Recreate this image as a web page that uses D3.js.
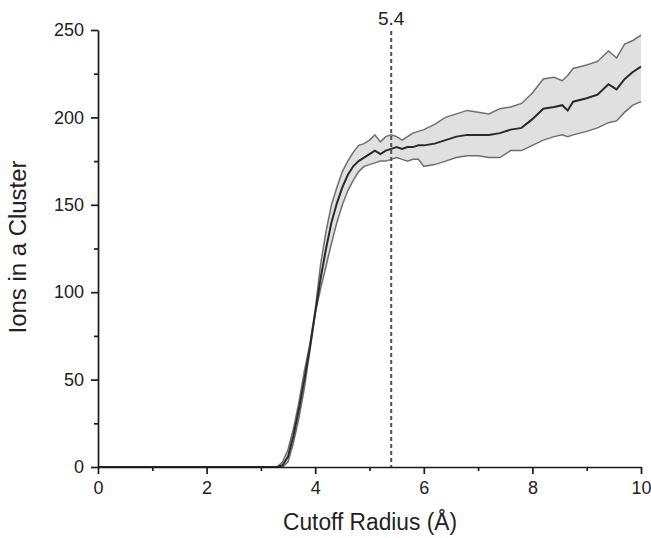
<!DOCTYPE html>
<html>
<head>
<meta charset="utf-8">
<script src="https://cdn.jsdelivr.net/npm/d3@7/dist/d3.min.js"></script>
<style>
  html, body { margin: 0; padding: 0; background: #fff; }
  svg { display: block; font-family: "Liberation Sans", Arial, Helvetica, sans-serif; }
</style>
</head>
<body>
<div id="chart"></div>
<script>
// ── Data ──
const radius = [0, 3.3, 3.4, 3.5, 3.6, 3.7, 3.8, 3.9,
  4.0, 4.1, 4.2, 4.3, 4.4, 4.5, 4.6, 4.7, 4.8, 4.9,
  5.0, 5.1, 5.2, 5.3, 5.4, 5.5, 5.6, 5.7, 5.8, 5.9,
  6.0, 6.2, 6.4, 6.6, 6.8, 7.0, 7.2, 7.4, 7.6, 7.8,
  8.0, 8.2, 8.4, 8.55, 8.65, 8.75, 9.0, 9.2, 9.4, 9.55, 9.7, 9.85, 10];
const meanIons = [0, 0, 1, 6, 18, 33, 50, 68,
  88, 108, 125, 140, 151, 160, 167, 172, 175, 177,
  179, 181, 179, 181, 182, 183, 182, 183, 183, 184,
  184, 185, 187, 189, 190, 190, 190, 191, 193, 194,
  199, 205, 206, 207, 204, 209, 211, 213, 219, 216, 222, 226, 229];
const upperIons = [0, 0, 3, 10, 22, 37, 55, 70,
  90, 116, 135, 150, 160, 169, 175, 180, 184, 185,
  187, 190, 186, 189, 190, 189, 187, 189, 191, 192,
  193, 196, 200, 202, 204, 203, 202, 205, 206, 208,
  214, 222, 223, 221, 224, 228, 230, 232, 238, 234, 242, 244, 247];
const lowerIons = [0, 0, 0, 3, 14, 28, 45, 66,
  88, 102, 115, 128, 140, 150, 158, 164, 169, 172,
  173, 174, 175, 175, 176, 177, 176, 175, 176, 176,
  172, 173, 175, 177, 178, 178, 177, 177, 181, 181,
  184, 187, 189, 190, 189, 190, 192, 194, 197, 198, 203, 207, 209];

const xMajor = [0, 2, 4, 6, 8, 10];
const xMinor = [1, 3, 5, 7, 9];
const yMajor = [0, 50, 100, 150, 200, 250];
const yMinor = [25, 75, 125, 175, 225];
const cutoff = 5.4;

// ── Layout ──
const W = 651, H = 538;
const M = { left: 98, right: 10, top: 30, bottom: 71 };

const svg = d3.select('#chart').append('svg')
  .attr('width', W)
  .attr('height', H);

const x = d3.scaleLinear().domain([0, 10]).range([M.left, W - M.right]);
const y = d3.scaleLinear().domain([0, 250]).range([H - M.bottom, M.top]);

const rows = radius.map((r, i) => ({ r, m: meanIons[i], hi: upperIons[i], lo: lowerIons[i] }));

// Band
svg.append('path')
  .datum(rows)
  .attr('fill', '#e0e0e0')
  .attr('d', d3.area().x(d => x(d.r)).y0(d => y(d.lo)).y1(d => y(d.hi)));

const edge = key => d3.line().x(d => x(d.r)).y(d => y(d[key]));

['hi', 'lo'].forEach(k => {
  svg.append('path')
    .datum(rows)
    .attr('fill', 'none')
    .attr('stroke', '#6e6e6e')
    .attr('stroke-width', 1.5)
    .attr('d', edge(k));
});

svg.append('path')
  .datum(rows)
  .attr('fill', 'none')
  .attr('stroke', '#2a2a2a')
  .attr('stroke-width', 2)
  .attr('d', edge('m'));

// Cutoff marker
svg.append('line')
  .attr('x1', x(cutoff)).attr('x2', x(cutoff))
  .attr('y1', 31).attr('y2', y(0))
  .attr('stroke', '#505050')
  .attr('stroke-width', 2)
  .attr('stroke-dasharray', '4,3');

svg.append('text')
  .attr('x', x(cutoff))
  .attr('y', 25)
  .attr('text-anchor', 'middle')
  .attr('font-size', 19)
  .attr('fill', '#222')
  .text(cutoff.toFixed(1));

// ── Axes ──
function styleAxis(g) {
  g.selectAll('path, line').attr('stroke', '#1a1a1a').attr('stroke-width', 1.7);
  g.selectAll('text').attr('font-size', 18).attr('fill', '#222').attr('font-family', null);
}

const gx = svg.append('g').attr('transform', `translate(0,${y(0)})`);
gx.call(d3.axisBottom(x).tickValues(xMajor).tickSize(7).tickSizeOuter(0).tickPadding(7).tickFormat(d3.format('d')));
gx.append('g').call(d3.axisBottom(x).tickValues(xMinor).tickSize(4).tickFormat(''))
  .select('.domain').remove();
styleAxis(gx);

const gy = svg.append('g').attr('transform', `translate(${x(0)},0)`);
gy.call(d3.axisLeft(y).tickValues(yMajor).tickSize(7).tickSizeOuter(0).tickPadding(7).tickFormat(d3.format('d')));
gy.append('g').call(d3.axisLeft(y).tickValues(yMinor).tickSize(4).tickFormat(''))
  .select('.domain').remove();
styleAxis(gy);

// Titles
svg.append('text')
  .attr('x', 370)
  .attr('y', 530)
  .attr('text-anchor', 'middle')
  .attr('font-size', 23)
  .attr('textLength', 174)
  .attr('lengthAdjust', 'spacingAndGlyphs')
  .attr('fill', '#222')
  .text('Cutoff Radius (Å)');

svg.append('text')
  .attr('transform', `translate(26,247) rotate(-90)`)
  .attr('text-anchor', 'middle')
  .attr('font-size', 23)
  .attr('textLength', 173)
  .attr('lengthAdjust', 'spacingAndGlyphs')
  .attr('fill', '#222')
  .text('Ions in a Cluster');
</script>
</body>
</html>
